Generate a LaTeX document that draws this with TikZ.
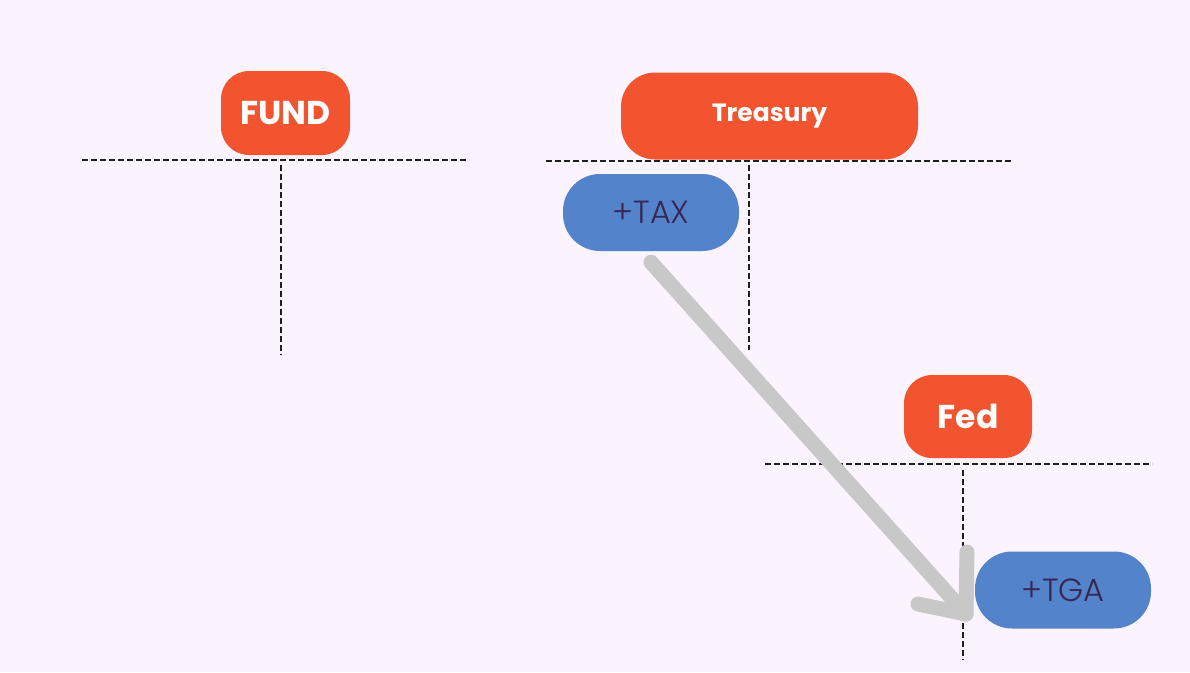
\documentclass[tikz,border=0pt]{standalone}
\usepackage{fontspec}
\usetikzlibrary{calc}
\setmainfont{Poppins}
\newfontfamily\headfont{Poppins}[UprightFont=* Bold]
\newfontfamily\lightfont{Poppins}[UprightFont=* Light]
\definecolor{bg}{HTML}{FBF4FE}
\definecolor{orangebox}{HTML}{F25430}
\definecolor{bluebox}{HTML}{5283CB}
\definecolor{darktext}{HTML}{3A2450}
\definecolor{arrowgray}{HTML}{C8C8C8}
\tikzset{
  headbox/.style={fill=orangebox, text=white, rounded corners=28pt, inner sep=0pt, font=\headfont},
  acctbox/.style={fill=bluebox, text=darktext, rounded corners=37pt, inner sep=0pt, minimum width=176pt, minimum height=77pt, font=\lightfont\fontsize{32}{32}\selectfont},
  tline/.style={draw=black!88, line width=1.9pt, dash pattern=on 6pt off 3pt},
  flow/.style={draw=arrowgray, line width=15pt, line cap=round, line join=round}
}
\begin{document}
\begin{tikzpicture}[x=1pt,y=-1pt]
\path[fill=bg] (0,0) rectangle (1190,672);
\useasboundingbox (0,0) rectangle (1190,672);

% FUND
\node[headbox, minimum width=129pt, minimum height=84pt, font=\headfont\fontsize{33}{33}\selectfont] (fund) at (285.5,113) {FUND};
\coordinate (fundL) at (82,160);
\coordinate (fundR) at (469,160);
\coordinate (fundT) at (281,165);
\coordinate (fundB) at (281,355);
\draw[tline] (fundL) -- (fundR);
\draw[tline] (fundT) -- (fundB);

% Treasury
\node[headbox, rounded corners=34pt, minimum width=297pt, minimum height=87pt, font=\headfont\fontsize{25}{25}\selectfont] (treasury) at (769.5,116) {Treasury};
\coordinate (trL) at (546,161);
\coordinate (trR) at (1012,161);
\coordinate (trT) at (749,165);
\coordinate (trB) at (749,350);
\draw[tline] (trL) -- (trR);
\draw[tline] (trT) -- (trB);

% Fed
\node[headbox, minimum width=128pt, minimum height=83pt, font=\headfont\fontsize{33}{33}\selectfont] (fed) at (968,416.5) {Fed};
\coordinate (fedL) at (765,464);
\coordinate (fedR) at (1152,464);
\coordinate (fedT) at (963,470);
\coordinate (fedB) at (963,660);
\draw[tline] (fedL) -- (fedR);
\draw[tline] (fedT) -- (fedB);

% accounts
\node[acctbox] (tax) at (651,212.5) {+TAX};
\node[acctbox] (tga) at (1063,590) {+TGA};

% flow arrow
\coordinate (start) at ($(tax.south)+(0,11)$);
\coordinate (tip) at (966,614);
\draw[flow] (start) -- (tip);
\draw[flow] (tip) -- ++(1,-62);
\draw[flow] (tip) -- ++(-48,-10);
\end{tikzpicture}
\end{document}
